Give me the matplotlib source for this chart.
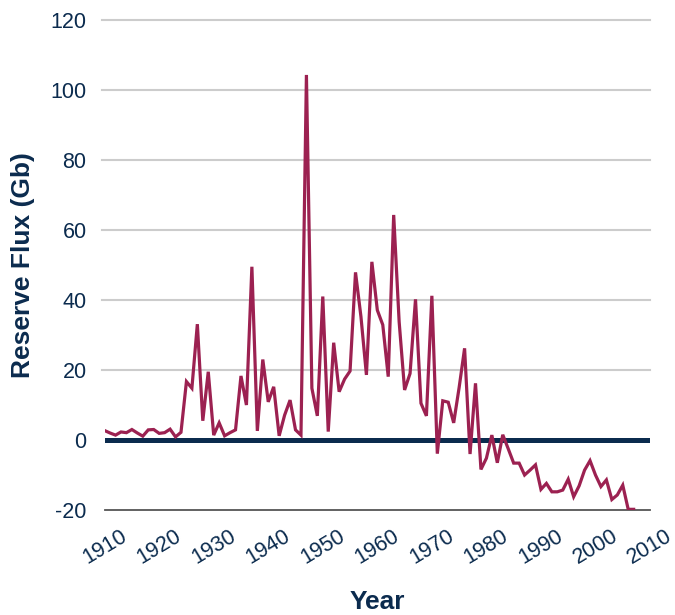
import matplotlib
matplotlib.use("Agg")
import matplotlib.pyplot as plt

years = list(range(1910, 2008))
flux = [
    2.7, 2.0, 1.4, 2.3, 2.1, 3.0, 2.0, 1.1, 2.9, 3.0,      # 1910-1919
    1.9, 2.1, 3.1, 0.9, 2.2, 16.7, 14.8, 33.1, 5.5, 19.5,   # 1920-1929
    1.4, 4.9, 1.2, 2.1, 2.9, 18.3, 10.0, 49.5, 2.6, 23.0,   # 1930-1939
    10.9, 15.2, 1.2, 7.1, 11.4, 2.9, 1.4, 104.3, 14.8, 6.9, # 1940-1949
    41.0, 2.4, 27.8, 13.8, 17.4, 19.7, 47.9, 35.2, 18.6, 50.9,  # 1950-1959
    37.1, 32.9, 18.1, 64.3, 33.8, 14.3, 19.0, 40.2, 10.5, 6.9,  # 1960-1969
    41.2, -3.9, 11.2, 10.8, 4.9, 15.0, 26.2, -4.0, 16.2, -8.4,  # 1970-1979
    -5.2, 1.4, -6.5, 1.5, -2.5, -6.6, -6.6, -10.0, -8.6, -7.1,  # 1980-1989
    -14.1, -12.4, -14.8, -14.8, -14.3, -11.2, -16.2, -13.1, -8.6, -5.9,  # 1990-1999
    -10.0, -13.3, -11.4, -17.0, -15.7, -12.9, -19.8, -19.8,     # 2000-2007
]
xticks = list(range(1910, 2011, 10))
yticks = list(range(-20, 121, 20))

navy = "#0b2b4e"
crimson = "#9c2151"
plt.rcParams['font.family'] = ['Liberation Sans', 'DejaVu Sans']

fig = plt.figure(figsize=(6.75, 6.15), dpi=100)
ax = fig.add_axes([0.155, 0.1707, 0.808, 0.7968])

ax.set_xlim(1910, 2010)
ax.set_ylim(-20, 120)
ax.set_yticks(yticks)
ax.set_xticks(xticks)
ax.set_yticklabels([str(v) for v in yticks], fontsize=15.5, color=navy)
ax.set_xticklabels([str(v) for v in xticks], fontsize=15.5, color=navy,
                   rotation=31, ha='center')

for v in yticks[1:]:
    if v == 0:
        continue
    ax.axhline(v, color="#cccccc", lw=1.5, zorder=1, xmin=-0.005, clip_on=False)
ax.axhline(0, color=navy, lw=3.6, zorder=3)

ax.plot(years, flux, color=crimson, lw=2.3, zorder=4, solid_joinstyle='miter')

for s in ['top', 'right', 'left']:
    ax.spines[s].set_visible(False)
ax.spines['bottom'].set_color('#555555')
ax.spines['bottom'].set_linewidth(1.3)
ax.tick_params(axis='both', length=0)
ax.tick_params(axis='y', pad=13)
ax.tick_params(axis='x', pad=11)

ax.set_ylabel("Reserve Flux (Gb)", fontsize=19, fontweight='bold', color=navy, labelpad=11)
ax.set_xlabel("Year", fontsize=19, fontweight='bold', color=navy, labelpad=16)

fig.savefig("out.png", dpi=100)
